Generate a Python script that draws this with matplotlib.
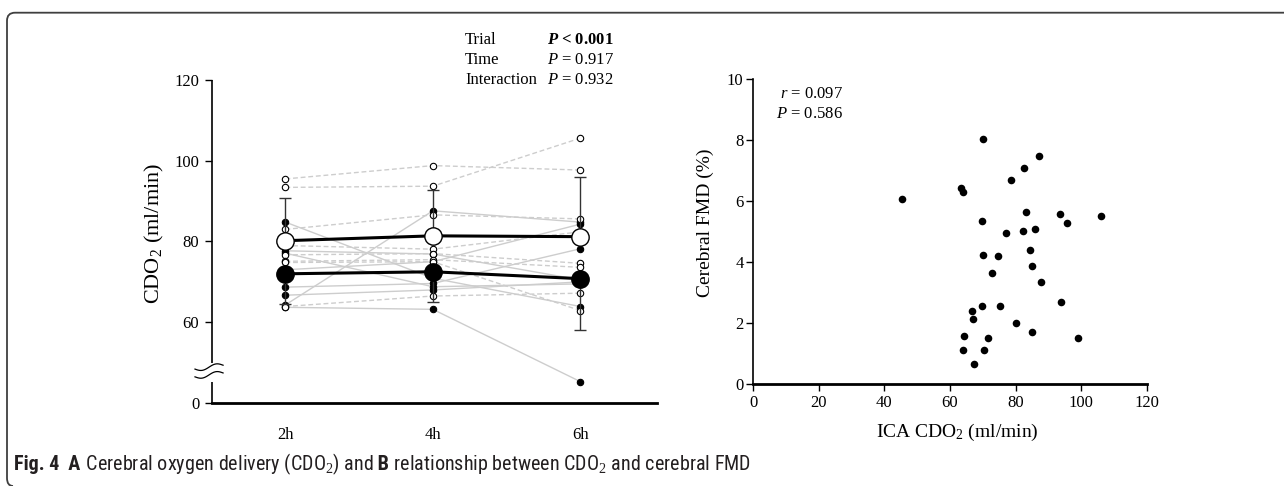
import matplotlib
matplotlib.use('Agg')
import matplotlib.pyplot as plt
import numpy as np
from matplotlib.path import Path
from matplotlib.patches import PathPatch
from matplotlib import font_manager

# ---------------- data ----------------
times = ['2h', '4h', '6h']

# individual subjects, open-circle trial (dashed grey lines)
open_2h = [95.5, 93.4, 83.0, 79.0, 76.7, 75.1, 74.8, 63.9]
open_4h = [98.8, 93.7, 86.6, 78.1, 77.0, 75.5, 75.0, 66.5]
open_6h = [97.7, 105.6, 85.6, 82.4, 74.6, 73.6, 62.9, 67.2]

# individual subjects, filled-circle trial (solid grey lines)
filled_2h = [84.8, 77.7, 77.1, 73.0, 68.7, 66.7, 64.3, 63.7]
filled_4h = [70.9, 76.9, 68.8, 75.0, 69.6, 68.0, 87.6, 63.2]
filled_6h = [63.9, 70.5, 69.5, 84.3, 78.2, 70.0, 84.8, 45.3]

open_mean = [80.2, 81.4, 81.2]
open_sd = [10.5, 11.4, 14.7]
filled_mean = [72.0, 72.5, 70.8]
filled_sd = [7.5, 7.4, 12.6]

y_ticks = [40, 60, 80, 100, 120]
y_ticklabels = ['0', '60', '80', '100', '120']

stats_names = ['Trial', 'Time', 'Interaction']
stats_values = [r'$\mathbfit{P}$ < 0.001', r'$P$ = 0.917', r'$P$ = 0.932']

# panel B scatter
ica_cdo2 = [45.5, 63.5, 63.9, 70.2, 87.0, 82.7, 78.5, 83.3, 93.7, 106.0, 95.8,
            69.9, 77.1, 82.2, 85.8, 84.4, 70.0, 74.7, 84.9, 72.7, 87.8, 94.0,
            69.9, 75.3, 66.7, 66.9, 80.1, 64.3, 71.5, 84.9, 99.0, 63.9, 70.4, 67.4]
cerebral_fmd = [6.07, 6.45, 6.30, 8.04, 7.48, 7.08, 6.70, 5.66, 5.57, 5.51, 5.28,
                5.36, 4.96, 5.02, 5.08, 4.39, 4.24, 4.20, 3.89, 3.65, 3.34, 2.69,
                2.56, 2.57, 2.39, 2.13, 2.02, 1.58, 1.52, 1.70, 1.53, 1.13, 1.13, 0.66]

# ---------------- style ----------------
plt.rcParams['font.family'] = ['Liberation Serif', 'DejaVu Serif']
plt.rcParams['mathtext.fontset'] = 'custom'
plt.rcParams['mathtext.rm'] = 'Liberation Serif'
plt.rcParams['mathtext.it'] = 'Liberation Serif:italic'
plt.rcParams['mathtext.bf'] = 'Liberation Serif:bold'
plt.rcParams['mathtext.bfit'] = 'Liberation Serif:italic:bold'

W, H = 1284, 486
fig = plt.figure(figsize=(W / 100, H / 100), dpi=100)


def fx(px):
    return px / W


def fy(py):
    return 1 - py / H


# ---------------- panel A ----------------
axA = fig.add_axes([fx(211.7), fy(403), fx(657) - fx(211.7), fy(80) - fy(403)])
x = np.arange(len(times))
opens = np.array([open_2h, open_4h, open_6h])
filleds = np.array([filled_2h, filled_4h, filled_6h])
grey = '#cdcdcd'
for i in range(opens.shape[1]):
    axA.plot(x, opens[:, i], color=grey, lw=1.0, ls=(0, (3.5, 2)), zorder=1)
for i in range(filleds.shape[1]):
    axA.plot(x, filleds[:, i], color=grey, lw=1.0, ls='-', zorder=1)
for j in range(len(times)):
    axA.plot([x[j]] * filleds.shape[1], filleds[j], 'o', ms=4.6, mfc='black',
             mec='black', mew=0.8, zorder=3)
    axA.plot([x[j]] * opens.shape[1], opens[j], 'o', ms=4.6, mfc='white',
             mec='black', mew=0.8, zorder=3)

zeros = np.zeros(len(times))
axA.errorbar(x, open_mean, yerr=[zeros, open_sd], fmt='none', ecolor='#333333',
             elinewidth=1.0, capsize=4, capthick=1.0, zorder=4)
axA.errorbar(x, filled_mean, yerr=[filled_sd, zeros], fmt='none', ecolor='#333333',
             elinewidth=1.0, capsize=4, capthick=1.0, zorder=4)
axA.plot(x, open_mean, '-', color='black', lw=2.2, zorder=5)
axA.plot(x, filled_mean, '-', color='black', lw=2.2, zorder=5)
axA.plot(x, open_mean, 'o', ms=12.5, mfc='white', mec='black', mew=1.0, zorder=6)
axA.plot(x, filled_mean, 'o', ms=12.5, mfc='black', mec='black', mew=1.0, zorder=6)

axA.set_xlim(-0.5, 2.52)
axA.set_ylim(40, 120)
axA.set_yticks(y_ticks)
axA.set_yticklabels(y_ticklabels)
axA.set_xticks(x)
axA.set_xticklabels(times)
axA.tick_params(axis='y', direction='out', length=5, width=1.0, pad=4, labelsize=12)
axA.tick_params(axis='x', length=0, pad=17, labelsize=12)
for s in ['top', 'right', 'left']:
    axA.spines[s].set_visible(False)
axA.spines['bottom'].set_linewidth(2.0)
# broken left spine
axA.plot([0, 0], [0.124, 1.0], transform=axA.transAxes, color='black', lw=1.2,
         clip_on=False, solid_capstyle='butt')
axA.plot([0, 0], [0.0, 0.065], transform=axA.transAxes, color='black', lw=1.2,
         clip_on=False, solid_capstyle='butt')
t = np.linspace(0, 1, 60)
wx = -0.0375 + 0.063 * t
for yc in (0.111, 0.087):
    axA.plot(wx, yc - 0.007 * np.sin(2 * np.pi * t) + 0.012 * (t - 0.5),
             transform=axA.transAxes, color='black', lw=0.9, clip_on=False)

axA.set_ylabel('CDO$_2$ (ml/min)', fontsize=16, va='center')
axA.yaxis.set_label_coords(-0.1296, 0.525)

for k, (nm, val) in enumerate(zip(stats_names, stats_values)):
    base = 43.5 + 20 * k
    fig.text(fx(465), fy(base), nm, ha='left', va='baseline', fontsize=12)
    fig.text(fx(546.7), fy(base), val, ha='left', va='baseline', fontsize=12,
             fontweight='bold' if k == 0 else 'normal')

# ---------------- panel B ----------------
axB = fig.add_axes([fx(753.3), fy(384.3), fx(1146.7) - fx(753.3), fy(79.3) - fy(384.3)])
axB.scatter(ica_cdo2, cerebral_fmd, s=30, color='black', zorder=3, linewidths=0)
axB.set_xlim(0, 120)
axB.set_ylim(0, 10)
axB.set_xticks(np.arange(0, 121, 20))
axB.set_yticks(np.arange(0, 11, 2))
axB.tick_params(axis='both', direction='out', length=5, width=1.0, labelsize=12)
axB.tick_params(axis='y', pad=2)
axB.tick_params(axis='x', pad=3)
for s in ['top', 'right']:
    axB.spines[s].set_visible(False)
axB.spines['left'].set_linewidth(1.2)
axB.spines['bottom'].set_linewidth(2.0)
axB.set_ylabel('Cerebral FMD (%)', fontsize=14, va='center')
axB.yaxis.set_label_coords(-0.123, 0.53)
axB.set_xlabel('ICA CDO$_2$ (ml/min)', fontsize=14, va='center')
axB.xaxis.set_label_coords(0.518, -0.158)

fig.text(fx(843), fy(98.5), r'$r$ = 0.097', ha='right', va='baseline', fontsize=12)
fig.text(fx(843), fy(118.5), r'$P$ = 0.586', ha='right', va='baseline', fontsize=12)

# ---------------- frame ----------------
verts = [(W, 12.7), (15, 12.7), (7, 12.7), (7, 20.7), (7, 478), (7, 486), (13, 486)]
codes = [Path.MOVETO, Path.LINETO, Path.CURVE3, Path.CURVE3, Path.LINETO,
         Path.CURVE3, Path.CURVE3]
verts_f = [(fx(a), fy(b)) for a, b in verts]
frame = PathPatch(Path(verts_f, codes), transform=fig.transFigure, fill=False,
                  edgecolor='#3f3f3f', lw=1.3, clip_on=False)
fig.add_artist(frame)

# ---------------- caption ----------------
available = {f.name for f in font_manager.fontManager.ttflist}
cap_candidates = ['Liberation Sans Narrow', 'Roboto Condensed', 'Open Sans Condensed',
                  'DejaVu Sans Condensed', 'Roboto', 'Liberation Sans']
cap_family = [f for f in cap_candidates if f in available][:1] + ['DejaVu Sans']
cap_stretch = 'condensed'
pieces = [('Fig. 4', 'bold'), ('  A', 'bold'),
          (' Cerebral oxygen delivery (CDO$_2$) and', 'normal'), (' B', 'bold'),
          (' relationship between CDO$_2$ and cerebral FMD', 'normal')]


def draw_caption(size):
    renderer = fig.canvas.get_renderer()
    xpos = 14.0
    arts = []
    for txt, wt in pieces:
        a = fig.text(fx(xpos), fy(470), txt, ha='left', va='baseline', fontsize=size,
                     fontweight=wt, family=cap_family, fontstretch=cap_stretch,
                     color='#231f20')
        bb = a.get_window_extent(renderer)
        xpos += bb.width
        arts.append(a)
    return arts, xpos - 14.0


arts, width = draw_caption(13)
target = 811.0
for a in arts:
    a.remove()
draw_caption(min(14.5, 13 * target / width))

fig.savefig('out.png', dpi=100)
